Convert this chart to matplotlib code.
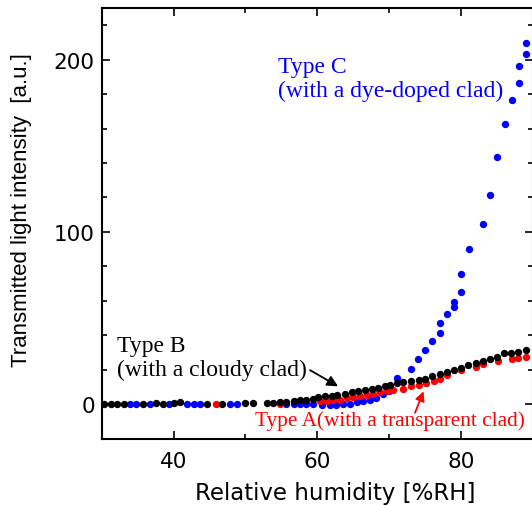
import matplotlib
matplotlib.use("Agg")
import matplotlib.pyplot as plt
from matplotlib.ticker import MultipleLocator

# ---------------- data ----------------
# Type B (with a cloudy clad) - black
typeB_rh = [30.3, 31.3, 32.1, 33.1, 35.8, 37.6, 38.5, 40.0, 40.9, 44.6, 46.8, 49.9, 51.0,
            53.0, 53.9, 54.8, 55.7, 56.7, 57.6, 58.5, 59.4, 60.1, 61.1, 62.0, 62.8, 63.9,
            64.8, 65.7, 66.6, 67.6, 68.5, 69.4, 70.1, 71.1, 72.0, 73.0, 74.1, 75.0, 76.0,
            77.1, 78.0, 79.0, 80.0, 81.0, 82.1, 83.0, 84.1, 85.0, 86.0, 87.0, 88.0, 89.1]
typeB_int = [0.2, 0.0, 0.3, 0.2, 0.3, 0.5, 0.3, 0.5, 1.0, 0.3, 0.3, 0.5, 0.8,
             0.7, 0.7, 1.0, 1.0, 1.6, 2.2, 2.6, 3.2, 4.0, 4.5, 4.9, 5.5, 6.1,
             6.9, 7.3, 8.0, 8.8, 9.2, 10.3, 11.3, 12.3, 12.6, 13.2, 13.9, 14.7, 16.2,
             17.7, 18.5, 19.7, 21.0, 22.4, 24.0, 24.9, 25.9, 27.4, 29.4, 29.8, 30.3, 31.3]

# Type C (with a dye-doped clad) - blue
typeC_rh = [33.9, 34.8, 36.7, 39.4, 41.9, 42.8, 43.7, 47.8, 48.8,
            55.7, 56.7, 57.6, 58.5, 59.4, 60.6, 61.8, 62.6, 63.6, 64.6, 65.5, 66.4,
            67.3, 68.2, 69.1, 70.0, 71.1, 73.0, 74.0, 75.0, 76.0, 77.1, 77.1, 78.1,
            79.0, 79.0, 80.0, 80.0, 81.1, 83.1, 84.1, 85.0, 86.1, 87.1, 88.05, 88.05,
            89.1, 89.1]
typeC_int = [0.3, 0.3, 0.0, 0.3, 0.3, 0.2, 0.3, 0.2, 0.3,
             0.0, 0.0, 0.0, 0.0, 0.0, -0.3, -0.5, -0.3, 0.1, 0.3, 1.0, 1.6,
             2.6, 3.6, 6.1, 7.4, 14.9, 20.5, 25.9, 31.3, 36.5, 41.0, 47.1, 52.5,
             56.6, 59.5, 65.3, 75.6, 90.0, 104.6, 121.5, 143.3, 162.8, 176.6, 186.7, 196.4,
             203.2, 209.6]

# Type A (with a transparent clad) - red
typeA_rh = [45.9, 54.8, 60.4, 61.3, 62.2, 63.2, 64.1, 65.0, 65.9, 66.9, 67.8, 68.7,
            69.7, 70.6, 72.0, 73.1, 74.1, 75.2, 76.2, 77.1, 78.0, 80.0, 82.1, 83.0,
            85.1, 87.1, 88.0, 89.1]
typeA_int = [0.3, 0.3, 1.6, 1.6, 2.2, 2.6, 3.6, 4.2, 4.5, 5.5, 6.1, 6.9,
             7.4, 8.0, 8.8, 10.3, 10.8, 12.3, 13.3, 14.4, 16.6, 19.6, 21.3, 23.0,
             24.9, 26.1, 26.9, 27.4]

x_ticks = [40, 60, 80]
y_ticks = [0, 100, 200]

# ---------------- figure ----------------
W, H = 532, 506
fig = plt.figure(figsize=(W / 100, H / 100), dpi=100)
left, right_px, top_px, bottom_px = 101.7, 532.8, 9.0, 439.5
ax = fig.add_axes([left / W, 1 - bottom_px / H, (right_px - left) / W, (bottom_px - top_px) / H])

ms = 28
ax.scatter(typeC_rh, typeC_int, s=ms, c='#0000ff', linewidths=0, zorder=3)
ax.scatter(typeA_rh, typeA_int, s=ms, c='#ff0000', linewidths=0, zorder=4)
ax.scatter(typeB_rh, typeB_int, s=ms, c='#000000', linewidths=0, zorder=5)

ax.set_xlim(30, 90)
ax.set_ylim(-20, 230)
ax.set_xticks(x_ticks)
ax.set_yticks(y_ticks)
ax.xaxis.set_minor_locator(MultipleLocator(10))
ax.yaxis.set_minor_locator(MultipleLocator(20))

for s in ax.spines.values():
    s.set_linewidth(1.5)
ax.tick_params(which='both', direction='in', top=True, right=True, width=1.2)
ax.tick_params(which='major', length=6)
ax.tick_params(which='minor', length=3.5)
ax.tick_params(axis='x', which='major', pad=9)
ax.tick_params(axis='y', which='major', pad=5)
for lab in ax.get_xticklabels() + ax.get_yticklabels():
    lab.set_fontfamily('DejaVu Sans')
    lab.set_fontsize(15.5)

fig.text(335 / W, 1 - 494 / H, 'Relative humidity [%RH]', family='DejaVu Sans',
         fontsize=16.5, ha='center', va='center')
fig.text(22 / W, 1 - 210 / H, 'Transmitted light intensity  [a.u.]', family='Liberation Sans',
         fontsize=16, ha='center', va='center', rotation=90)

serif = 'Liberation Serif'
ax.text(54.5, 196.2, 'Type C', color='#0000ff', family=serif, fontsize=17, va='center', ha='left')
ax.text(54.5, 182.3, '(with a dye-doped clad)', color='#0000ff', family=serif, fontsize=17,
        va='center', ha='left')
ax.text(32.1, 34.0, 'Type B', color='black', family=serif, fontsize=17, va='center', ha='left')
ax.text(32.1, 20.1, '(with a cloudy clad)', color='black', family=serif, fontsize=17,
        va='center', ha='left')
ax.text(51.4, -9.6, 'Type A(with a transparent clad)', color='#ff0000', family=serif,
        fontsize=15.3, va='center', ha='left')

ax.annotate('', xy=(62.9, 10.3), xytext=(59.0, 19.7),
            arrowprops=dict(arrowstyle='-|>', color='black', lw=1.3, mutation_scale=16,
                            shrinkA=0, shrinkB=0), zorder=6)
ax.annotate('', xy=(74.8, 7.4), xytext=(73.6, -5.1),
            arrowprops=dict(arrowstyle='-|>', color='#ff0000', lw=1.3, mutation_scale=14,
                            shrinkA=0, shrinkB=0), zorder=6)

fig.savefig('out.png', dpi=100)
